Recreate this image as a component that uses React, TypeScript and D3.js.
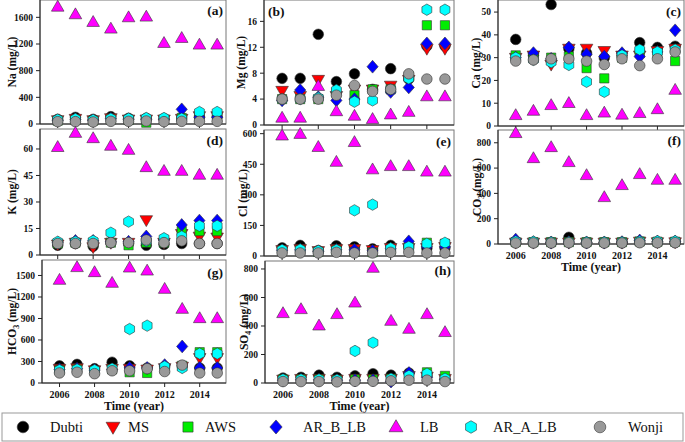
import React from 'react';
import * as d3 from 'd3';

const years = [2006, 2007, 2008, 2009, 2010, 2011, 2012, 2013, 2014, 2015];
const xTickYears = [2006, 2008, 2010, 2012, 2014];
const seriesNames = ['Dubti', 'MS', 'AWS', 'AR_B_LB', 'LB', 'AR_A_LB', 'Wonji'];
const seriesColors = ['#000000', '#ff0000', '#00ee00', '#0000ff', '#ff00ff', '#00ffff', '#999999'];
const seriesShapes = ['circle', 'triangleDown', 'square', 'diamond', 'triangle', 'hexagon', 'circle'];

// rows: Dubti, MS, AWS, AR_B_LB, LB, AR_A_LB, Wonji
const na = [
  [70, 100, 70, 110, 85, 85, 80, 90, 110, 110],
  [60, 80, 60, 90, 70, 70, 70, 80, 120, 120],
  [50, 60, 50, 70, 60, 20, 60, 90, 100, 100],
  [55, 70, 55, 80, 70, 70, 70, 220, 100, 100],
  [1757, 1643, 1528, 1428, 1598, 1608, 1213, 1288, 1188, 1188],
  [65, 75, 60, 80, 80, 90, 90, 80, 180, 180],
  [35, 35, 30, 40, 40, 45, 35, 40, 40, 40],
];
const mg = [
  [7.2, 7.2, 14.0, 6.7, 7.9, 5.5, 8.7, 7.1, 12.2, 12.2],
  [5.3, 4.5, 7.0, 4.5, 5.5, 5.5, 6.1, 7.0, 11.8, 11.8],
  [4.0, 4.0, 4.0, 5.0, 4.6, 5.5, 5.5, 7.5, 15.4, 15.4],
  [3.8, 5.4, 4.3, 3.8, 4.0, 9.0, 5.1, 5.8, 12.6, 12.6],
  [1.1, 1.1, 6.0, 2.1, 1.4, 0.9, 1.6, 2.0, 4.4, 4.4],
  [4.0, 4.0, 4.2, 5.4, 3.6, 3.8, 5.5, 7.2, 17.8, 17.8],
  [4.0, 4.0, 4.0, 4.6, 6.1, 5.2, 5.5, 7.9, 7.1, 7.1],
];
const ca = [
  [38, 31, 53.3, 34, 32, 30, 31, 36.6, 34.5, 35],
  [30, 31, 27, 34, 34, 33, 31, 31, 33, 34],
  [31, 30, 30, 30.5, 25.4, 20.9, 30, 32, 32, 28.5],
  [30, 32, 29.5, 34.5, 31.5, 30.5, 32, 30.5, 32.5, 42],
  [4.7, 6.6, 9.1, 10, 4.7, 5.8, 4.9, 5.6, 7.3, 15.8],
  [30, 29, 28, 26.8, 19.4, 15, 31, 33.5, 32.5, 33.5],
  [28.5, 29, 29.5, 29.5, 28.5, 27, 29.5, 26.5, 29.5, 32.5],
];
const k = [
  [5.5, 6.5, 5, 7, 6.5, 5.5, 6, 6.5, 6.5, 6.5],
  [6, 7, 4.5, 7, 7, 19.8, 7, 12, 10.5, 10],
  [6.5, 7, 7, 7, 5.5, 7, 7, 13.5, 13.5, 13.5],
  [7, 8, 8, 7.5, 7.5, 10.5, 8.5, 17, 19.5, 19.5],
  [61, 69, 66, 61.7, 59.4, 49.6, 47.5, 47.5, 45.3, 45.3],
  [7.5, 7.5, 8, 12.6, 18.9, 8, 9.5, 10.5, 16.5, 16.5],
  [6.5, 6.5, 6.5, 7, 7, 8.5, 7, 8, 6.5, 6.5],
];
const cl = [
  [40, 52, 27, 50, 45, 35, 52, 45, 38, 40],
  [30, 35, 25, 35, 35, 30, 40, 40, 40, 45],
  [25, 28, 20, 28, 20, 18, 30, 45, 65, 60],
  [28, 30, 22, 30, 30, 25, 35, 72, 45, 45],
  [590, 598, 534, 461, 558, 424, 440, 440, 413, 413],
  [30, 32, 25, 30, 224, 252, 38, 45, 60, 65],
  [15, 15, 15, 18, 15, 15, 18, 18, 15, 15],
];
const co3 = [
  [10, 10, 10, 53, 10, 10, 10, 15, 12, 12],
  [12, 12, 12, 12, 12, 12, 12, 20, 15, 15],
  [15, 15, 15, 15, 15, 15, 15, 20, 18, 18],
  [35, 15, 12, 15, 12, 12, 15, 28, 20, 20],
  [875, 677, 764, 646, 543, 369, 464, 551, 506, 506],
  [20, 18, 15, 15, 15, 15, 15, 20, 22, 22],
  [8, 8, 8, 10, 8, 8, 8, 10, 10, 10],
];
const hco3 = [
  [240, 260, 200, 290, 240, 210, 230, 240, 210, 210],
  [200, 210, 180, 200, 200, 190, 210, 230, 350, 350],
  [180, 190, 170, 190, 150, 140, 200, 240, 430, 430],
  [190, 200, 180, 190, 210, 210, 250, 510, 210, 210],
  [1437, 1614, 1544, 1395, 1608, 1566, 1311, 1032, 902, 902],
  [180, 190, 180, 200, 753, 800, 230, 210, 410, 410],
  [140, 150, 130, 170, 170, 200, 160, 250, 140, 140],
];
const so4 = [
  [35, 40, 55, 40, 50, 65, 55, 70, 50, 30],
  [25, 30, 30, 25, 30, 30, 30, 50, 45, 30],
  [25, 25, 25, 20, 25, 25, 30, 50, 75, 50],
  [20, 22, 22, 20, 20, 20, 10, 70, 40, 25],
  [489, 517, 402, 482, 563, 807, 435, 379, 482, 356],
  [25, 25, 25, 22, 225, 283, 30, 50, 65, 30],
  [10, 10, 10, 8, 12, 12, 15, 20, 20, 10],
];

const naTicks = [0, 400, 800, 1200, 1600];
const mgTicks = [0, 4, 8, 12, 16];
const caTicks = [0, 10, 20, 30, 40, 50];
const kTicks = [0, 15, 30, 45, 60];
const clTicks = [0, 150, 300, 450, 600];
const co3Ticks = [0, 200, 400, 600, 800];
const hco3Ticks = [0, 300, 600, 900, 1200, 1500];
const so4Ticks = [0, 200, 400, 600, 800];

const FONT = 'Liberation Serif';

function markerPath(shape: string, s = 1): string {
  const poly = (pts: number[][]) => 'M' + pts.map(p => `${p[0] * s},${p[1] * s}`).join('L') + 'Z';
  switch (shape) {
    case 'circle':
      return d3.symbol(d3.symbolCircle, 88 * s * s)() as string;
    case 'square':
      return d3.symbol(d3.symbolSquare, 85 * s * s)() as string;
    case 'triangle':
      return poly([[0, -6.6], [6.3, 4.3], [-6.3, 4.3]]);
    case 'triangleDown':
      return poly([[0, 6.6], [6.3, -4.3], [-6.3, -4.3]]);
    case 'diamond':
      return poly([[0, -6.4], [5.6, 0], [0, 6.4], [-5.6, 0]]);
    case 'hexagon': {
      const r = 5.7;
      const pts = d3.range(6).map(i => {
        const a = (-90 + 60 * i) * Math.PI / 180;
        return [r * Math.cos(a), r * Math.sin(a)];
      });
      return poly(pts);
    }
  }
  return '';
}

type PanelCfg = {
  id: string;
  data: number[][];
  ticks: number[];
  max: number;
  x0: number; x1: number; y0: number; y1: number;
  title: string; sub?: string; titleX: number;
  label: string; labelX: number; labelY: number; labelAnchor: string;
  xLabels: boolean;
};

const panels: PanelCfg[] = [
  { id: 'a', data: na, ticks: naTicks, max: 1860, x0: 40, x1: 226, y0: 0, y1: 124, title: 'Na', titleX: 12, label: '(a)', labelX: 223, labelY: 15, labelAnchor: 'end', xLabels: false },
  { id: 'b', data: mg, ticks: mgTicks, max: 19.3, x0: 264, x1: 454, y0: 0, y1: 125, title: 'Mg', titleX: 241, label: '(b)', labelX: 268, labelY: 16, labelAnchor: 'start', xLabels: false },
  { id: 'c', data: ca, ticks: caTicks, max: 55.3, x0: 498, x1: 684, y0: 0, y1: 126, title: 'Ca', titleX: 476, label: '(c)', labelX: 681, labelY: 16, labelAnchor: 'end', xLabels: false },
  { id: 'd', data: k, ticks: kTicks, max: 71.3, x0: 40, x1: 226, y0: 129, y1: 255, title: 'K', titleX: 12, label: '(d)', labelX: 223, labelY: 145, labelAnchor: 'end', xLabels: false },
  { id: 'e', data: cl, ticks: clTicks, max: 618, x0: 264, x1: 454, y0: 130, y1: 256, title: 'Cl', titleX: 243, label: '(e)', labelX: 451, labelY: 146, labelAnchor: 'end', xLabels: false },
  { id: 'f', data: co3, ticks: co3Ticks, max: 901, x0: 498, x1: 684, y0: 130, y1: 244, title: 'CO', sub: '3', titleX: 477, label: '(f)', labelX: 681, labelY: 145, labelAnchor: 'end', xLabels: true },
  { id: 'g', data: hco3, ticks: hco3Ticks, max: 1716, x0: 42, x1: 226, y0: 260, y1: 383, title: 'HCO', sub: '3', titleX: 12, label: '(g)', labelX: 223, labelY: 277, labelAnchor: 'end', xLabels: true },
  { id: 'h', data: so4, ticks: so4Ticks, max: 856, x0: 265, x1: 454, y0: 261, y1: 383, title: 'SO', sub: '4', titleX: 244, label: '(h)', labelX: 451, labelY: 275, labelAnchor: 'end', xLabels: true },
];

const textStyle = (size: number, bold = true): React.CSSProperties => ({
  fontFamily: FONT,
  fontWeight: bold ? 'bold' : 'normal',
  fontSize: size + 'px',
});

function Panel({ p }: { p: PanelCfg }) {
  const x = d3.scaleLinear().domain([2005, 2015.5]).range([p.x0, p.x1]);
  const y = d3.scaleLinear().domain([0, p.max]).range([p.y1, p.y0]);
  const cy = (p.y0 + p.y1) / 2;
  const cx = (p.x0 + p.x1) / 2;
  return (
    <g>
      <rect x={p.x0} y={p.y0} width={p.x1 - p.x0} height={p.y1 - p.y0} fill="#fff" stroke="#777" strokeWidth={1} />
      <line x1={p.x0} x2={p.x0} y1={p.y0} y2={p.y1} stroke="#222" />
      <line x1={p.x0} x2={p.x1} y1={p.y1} y2={p.y1} stroke="#222" />
      {p.ticks.map(t => (
        <g key={'yt' + t}>
          <line x1={p.x0 - 4} x2={p.x0} y1={y(t)} y2={y(t)} stroke="#222" />
          <text x={p.x0 - 7} y={y(t)} dy="0.35em" textAnchor="end" style={textStyle(9.5)} fill="#111">{t}</text>
        </g>
      ))}
      {xTickYears.map(yr => (
        <g key={'xt' + yr}>
          <line x1={x(yr)} x2={x(yr)} y1={p.y1} y2={p.y1 + 4} stroke="#222" />
          {p.xLabels && (
            <text x={x(yr)} y={p.y1 + 15} textAnchor="middle" style={textStyle(10)} fill="#111">{yr}</text>
          )}
        </g>
      ))}
      {p.xLabels && (
        <text x={cx} y={p.y1 + 27} textAnchor="middle" style={textStyle(12)} fill="#111">Time (year)</text>
      )}
      <text transform={`translate(${p.titleX},${cy}) rotate(-90)`} dy="0.35em" textAnchor="middle" style={textStyle(11.5)} fill="#111">
        <tspan>{p.title}</tspan>
        {p.sub && <tspan style={{ fontSize: '8px' }} dy="3">{p.sub}</tspan>}
        <tspan dy={p.sub ? -3 : 0}>{' (mg/L)'}</tspan>
      </text>
      <text x={p.labelX} y={p.labelY} textAnchor={p.labelAnchor as any} style={textStyle(13.5)} fill="#111">{p.label}</text>
      {p.data.map((vals, si) => (
        <g key={'s' + si}>
          {vals.map((v, i) => (
            <path key={i} d={markerPath(seriesShapes[si])} transform={`translate(${x(years[i])},${y(v)})`} fill={seriesColors[si]} stroke="#333" strokeWidth={0.6} />
          ))}
        </g>
      ))}
    </g>
  );
}

const legendMarkerX = [23, 113, 188, 276, 396, 471, 600];
const legendTextX = [50, 128, 205, 303, 420, 493, 628];

export default function App() {
  return (
    <svg width={685} height={442} style={{ position: 'absolute', left: 0, top: 0, background: '#fff' }}>
      <rect x={0} y={0} width={685} height={442} fill="#fff" />
      {panels.map(p => <Panel key={p.id} p={p} />)}
      <rect x={2} y={413} width={681} height={28} fill="#fff" stroke="#999" strokeWidth={1} />
      {seriesNames.map((n, i) => (
        <g key={n}>
          <path d={markerPath(seriesShapes[i], 1.1)} transform={`translate(${legendMarkerX[i]},427)`} fill={seriesColors[i]} stroke="#333" strokeWidth={0.6} />
          <text x={legendTextX[i]} y={432} style={textStyle(14.5, false)} fill="#111">{n}</text>
        </g>
      ))}
    </svg>
  );
}
